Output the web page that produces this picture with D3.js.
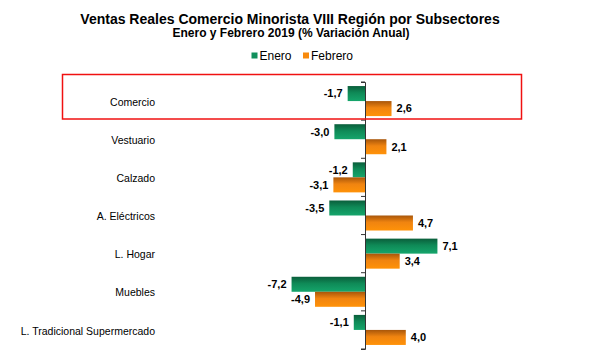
<!DOCTYPE html>
<html><head><meta charset="utf-8">
<script src="https://cdn.jsdelivr.net/npm/d3@7"></script>
<style>
body{margin:0;background:#fff;}
text{font-family:"Liberation Sans",Arial,sans-serif;}
</style></head><body>
<svg id="c" width="603" height="361"></svg>
<script>
const categories = ["Comercio","Vestuario","Calzado","A. Eléctricos","L. Hogar","Muebles","L. Tradicional Supermercado"];
const seriesNames = ["Enero","Febrero"];
const enero = [-1.7,-3.0,-1.2,-3.5,7.1,-7.2,-1.1];
const febrero = [2.6,2.1,-3.1,4.7,3.4,-4.9,4.0];
const colors = ["#11905c","#f88a0c"];

const svg = d3.select("#c");
const defs = svg.append("defs");
const g1 = defs.append("linearGradient").attr("id","gGreen").attr("x1",0).attr("y1",0).attr("x2",0).attr("y2",1);
g1.append("stop").attr("offset","0%").attr("stop-color","#0a5e3b");
g1.append("stop").attr("offset","45%").attr("stop-color","#0f8a57");
g1.append("stop").attr("offset","100%").attr("stop-color","#15a56b");
const g2 = defs.append("linearGradient").attr("id","gOrange").attr("x1",0).attr("y1",0).attr("x2",0).attr("y2",1);
g2.append("stop").attr("offset","0%").attr("stop-color","#a8560a");
g2.append("stop").attr("offset","45%").attr("stop-color","#f08410");
g2.append("stop").attr("offset","100%").attr("stop-color","#ff9208");
const fills = ["url(#gGreen)","url(#gOrange)"];

// Title
svg.append("text").attr("x",290).attr("y",24).attr("text-anchor","middle")
  .style("font-size","14px").style("font-weight","bold").text("Ventas Reales Comercio Minorista VIII Región por Subsectores");
svg.append("text").attr("x",291).attr("y",37).attr("text-anchor","middle")
  .style("font-size","12px").style("font-weight","bold").text("Enero y Febrero 2019 (% Variación Anual)");

// Legend
const legX = [251.5, 303];
seriesNames.forEach((s,i)=>{
  svg.append("rect").attr("x",legX[i]).attr("y",52.5).attr("width",6).attr("height",6).attr("fill",colors[i]);
  svg.append("text").attr("x",legX[i]+8).attr("y",59.5).style("font-size","12px").text(s);
});

const x = d3.scaleLinear().domain([-8,8]).range([365-81.6,365+81.6]);
const y = d3.scaleBand().domain(categories).range([82,349]);
const ySub = d3.scaleBand().domain(seriesNames).range([0,y.bandwidth()]).paddingInner(0).paddingOuter(0.27);

const fmt = v => d3.format(".1f")(v).replace(".",",").replace("−","-");

const data = categories.map((c,i)=>({cat:c, vals:[enero[i],febrero[i]]}));

const grp = svg.append("g").selectAll("g").data(data).join("g")
  .attr("transform",d=>`translate(0,${y(d.cat)})`);

grp.selectAll("rect").data(d=>d.vals.map((v,i)=>({v,i,s:seriesNames[i]}))).join("rect")
  .attr("x",d=>x(Math.min(0,d.v)))
  .attr("width",d=>Math.abs(x(d.v)-x(0)))
  .attr("y",d=>ySub(d.s))
  .attr("height",ySub.bandwidth())
  .attr("fill",d=>fills[d.i]);

grp.selectAll("text.val").data(d=>d.vals.map((v,i)=>({v,i,s:seriesNames[i]}))).join("text")
  .attr("class","val")
  .attr("x",d=>d.v<0 ? x(d.v)-5 : x(d.v)+5)
  .attr("y",d=>ySub(d.s)+ySub.bandwidth()/2)
  .attr("dy","0.35em")
  .attr("text-anchor",d=>d.v<0?"end":"start")
  .style("font-size","11px").style("font-weight","bold")
  .text(d=>fmt(d.v));

// Category labels
svg.append("g").selectAll("text").data(categories).join("text")
  .attr("x",155).attr("y",d=>y(d)+y.bandwidth()/2+1).attr("dy","0.35em")
  .attr("text-anchor","end").style("font-size","10.5px").text(d=>d);

// Axis
const axis = d3.axisLeft(y).tickSize(4).tickFormat("").tickSizeOuter(4);
const ax = svg.append("g").attr("transform",`translate(${x(0)},0)`).call(axis);
ax.selectAll(".tick").remove();
ax.select(".domain").attr("stroke","#333");
const bounds = categories.map(c=>y(c)).concat([y.range()[1]]);
ax.selectAll("line.b").data(bounds).join("line").attr("class","b")
  .attr("x1",-4).attr("x2",0).attr("y1",d=>d).attr("y2",d=>d).attr("stroke","#333");

// Highlight box
svg.append("rect").attr("x",62.5).attr("y",74.5).attr("width",459).attr("height",44.5)
  .attr("fill","none").attr("stroke","#f01010").attr("stroke-width",1.5);
</script>
</body></html>
